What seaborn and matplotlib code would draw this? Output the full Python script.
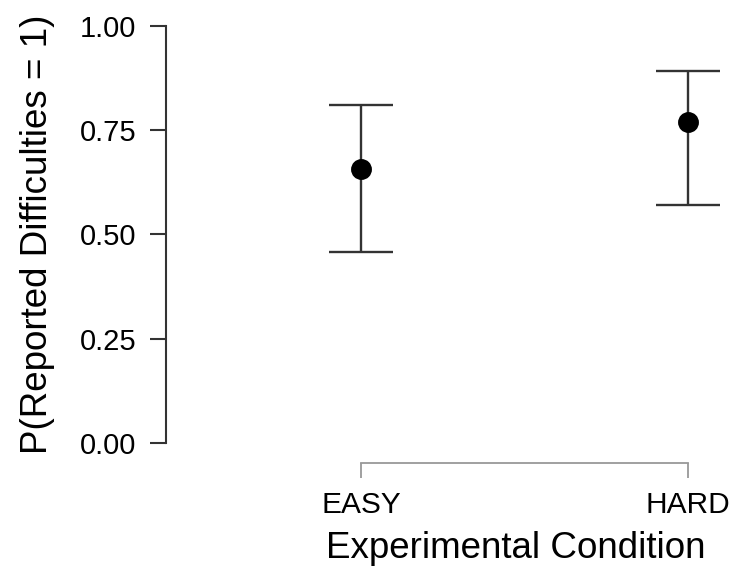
import matplotlib.pyplot as plt
import seaborn as sns
import numpy as np

# 数据
conditions = ["EASY", "HARD"]
estimate = [0.656, 0.769]
ci_lower = [0.457, 0.571]
ci_upper = [0.810, 0.892]
y_ticks = [0.00, 0.25, 0.50, 0.75, 1.00]

sns.set_style("white")
plt.rcParams['font.family'] = ['Liberation Sans', 'DejaVu Sans']
plt.rcParams['text.color'] = 'black'
plt.rcParams['axes.labelcolor'] = 'black'
plt.rcParams['xtick.labelcolor'] = 'black'
plt.rcParams['ytick.labelcolor'] = 'black'

fig = plt.figure(figsize=(7.34, 5.83), dpi=100)
ax = fig.add_axes([166 / 734, (583 - 443) / 583, (730 - 166) / 734, (443 - 25.7) / 583])

# 误差线
est = np.array(estimate)
yerr = np.array([est - np.array(ci_lower), np.array(ci_upper) - est])
ax.errorbar(x=range(len(conditions)), y=est, yerr=yerr, fmt='none',
            ecolor='#333333', elinewidth=1.7, capsize=23, capthick=1.7, zorder=2)

# 点
sns.pointplot(x=conditions, y=estimate, linestyle='none', errorbar=None,
              color='black', markers='o', markersize=13, ax=ax, zorder=3)

ax.set_xlim(-0.5963, 1.128)
ax.set_ylim(0, 1)
ax.set_yticks(y_ticks)
ax.set_yticklabels([f"{v:.2f}" for v in y_ticks])

for s in ['top', 'right']:
    ax.spines[s].set_visible(False)
ax.spines['left'].set_bounds(0, 1)
ax.spines['left'].set_color('#333333')
ax.spines['left'].set_linewidth(1.5)
ax.spines['bottom'].set_position(('outward', 14.5))
ax.spines['bottom'].set_bounds(0, 1)
ax.spines['bottom'].set_color('#999999')
ax.spines['bottom'].set_linewidth(1.3)

ax.tick_params(axis='y', length=11.5, width=1.5, color='#333333', pad=10,
               labelsize=21, left=True)
ax.tick_params(axis='x', length=11, width=1.3, color='#999999', pad=9,
               labelsize=21.5, bottom=True)

ax.set_xlabel("Experimental Condition", fontsize=26.5, labelpad=9)
ax.xaxis.label.set_x((516 - 166) / 564)
ax.set_ylabel("P(Reported Difficulties = 1)", fontsize=26.5, labelpad=18)

fig.savefig("out.png", dpi=100)
